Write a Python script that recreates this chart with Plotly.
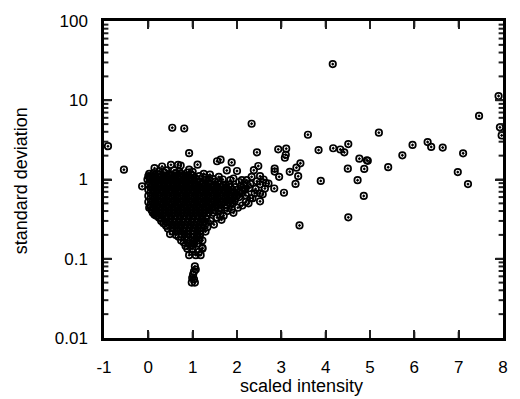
import plotly.graph_objects as go

# ---- data ----
outlier_x = [-0.91, -0.55, -0.14, 0.54, 0.81, 0.92, 2.33, 4.16, 7.90, 7.46, 7.93, 7.97,
             3.60, 5.20, 4.51, 5.96, 6.30, 6.38, 6.64, 7.10, 6.98, 7.21, 5.73, 5.41,
             4.86, 4.72, 4.87, 4.76, 4.93, 4.95, 4.50, 4.17, 4.33, 4.42, 3.84, 3.89,
             3.41, 4.51]
outlier_y = [2.63, 1.33, 0.82, 4.5, 4.4, 2.15, 5.05, 28.6, 11.3, 6.35, 4.55, 3.6,
             3.67, 3.9, 2.8, 2.73, 2.97, 2.58, 2.53, 2.14, 1.24, 0.875, 2.02, 1.43,
             0.62, 0.98, 1.36, 1.83, 1.75, 1.72, 1.37, 2.48, 2.39, 2.2, 2.35, 0.96,
             0.263, 0.333]

fringe_x = [0.14, 0.31, 0.51, 0.67, 0.73, 0.92, 0.40, 1.11, 1.55, 1.63, 1.88, 1.22,
            1.39, 1.59, 1.77, 2.00, 1.92, 2.22, 2.33, 2.52, 2.52, 2.18, 2.11, 2.40,
            2.26, 1.48, 2.52, 2.45, 2.48, 2.38, 2.93, 3.11, 3.08, 3.10, 2.85, 2.85,
            2.95, 3.19, 3.34, 3.32, 3.38, 3.43, 2.71, 2.84, 2.63, 3.06, 2.58, 2.52,
            2.11, 2.18, 0.03, 0.29, 0.47, 0.73, 0.54, 0.99, 1.70, 1.92, 1.48, 1.33,
            1.29, 1.22, 1.22, 1.10, 0.18, 0.29, 0.44, 0.49, 0.88, 0.99, 1.03, 1.22,
            0.92, 1.07, 1.18, 0.99, 1.14, 2.30]
fringe_y = [1.39, 1.46, 1.53, 1.53, 1.50, 1.33, 1.30, 1.54, 1.70, 1.78, 1.64, 0.89,
            1.15, 1.08, 1.30, 1.28, 1.03, 0.98, 1.08, 1.10, 0.87, 0.77, 0.67, 0.67,
            0.50, 0.81, 0.53, 2.20, 1.48, 1.31, 2.40, 2.45, 1.88, 2.05, 1.37, 1.26,
            1.08, 1.25, 1.41, 0.88, 1.10, 1.60, 0.89, 0.77, 0.77, 0.68, 0.65, 0.67,
            0.98, 0.74, 1.08, 1.08, 1.00, 1.19, 1.13, 0.98, 0.35, 0.38, 0.27, 0.25,
            0.22, 0.17, 0.137, 0.196, 0.35, 0.30, 0.24, 0.205, 0.134, 0.134, 0.154, 0.134,
            0.111, 0.111, 0.111, 0.122, 0.122, 0.58]

# ragged outline of the dense cloud
edge_x = [0.02, 0.12, 0.22, 0.36, 0.47, 0.62, 0.78, 0.88, 1.00, 1.15, 1.30, 1.45,
          1.68, 1.85, 2.05, 1.25, 1.00, 0.58, 0.25, 0.85, 0.05, 0.08, 0.10, 0.14,
          0.24, 0.34, 0.40, 0.55, 0.62, 0.68, 0.74, 0.80, 0.84, 1.30, 1.40, 1.55,
          1.62, 1.78, 1.88, 2.02, 2.12, 2.20, 1.65, 2.05, 2.12, 2.20, 2.28, 2.35,
          2.30, 2.42, 2.15, 2.45, 2.60, 2.65, 1.95, 2.08, 1.58, 1.38, 0.96, 0.70]
edge_y = [1.18, 1.20, 1.16, 1.22, 1.17, 1.20, 1.14, 1.22, 1.12, 1.10, 1.06, 1.02,
          1.00, 0.98, 0.93, 1.18, 1.25, 1.30, 1.28, 1.05, 0.45, 0.41, 0.38, 0.36,
          0.33, 0.28, 0.26, 0.22, 0.20, 0.19, 0.17, 0.16, 0.145, 0.28, 0.30, 0.33,
          0.36, 0.40, 0.42, 0.44, 0.47, 0.52, 0.31, 0.60, 0.72, 0.63, 0.78, 0.58,
          0.88, 0.76, 0.86, 0.95, 1.00, 0.90, 0.54, 0.82, 0.95, 0.97, 1.16, 1.26]

tail_x = [1.05, 1.03, 1.01, 0.99, 0.98, 1.05, 1.03, 1.07]
tail_y = [0.080, 0.069, 0.063, 0.057, 0.050, 0.050, 0.055, 0.073]

# dense core: one list of x positions per standard-deviation level
core_levels = [1.1, 1.05, 1.0, 0.93, 0.86, 0.8, 0.74, 0.68, 0.62, 0.57, 0.52, 0.48,
               0.44, 0.41, 0.38, 0.35, 0.32, 0.29, 0.27, 0.245, 0.225, 0.205, 0.185,
               0.17, 0.155]
core_rows = [
    [0.0, 0.1, 0.2, 0.3, 0.4, 0.5, 0.6, 0.7, 0.8, 0.9],
    [0.05, 0.15, 0.25, 0.35, 0.45, 0.55, 0.65, 0.75, 0.85, 0.95, 1.05],
    [-0.02, 0.1, 0.2, 0.3, 0.4, 0.5, 0.6, 0.7, 0.8, 0.9, 1.0, 1.1, 1.3],
    [0.03, 0.15, 0.25, 0.35, 0.45, 0.55, 0.65, 0.75, 0.85, 0.95, 1.05, 1.15, 1.25,
     1.35, 1.5],
    [0.0, 0.1, 0.2, 0.3, 0.4, 0.5, 0.6, 0.7, 0.8, 0.9, 1.0, 1.1, 1.2, 1.3, 1.4, 1.5,
     1.6, 1.7, 1.82],
    [0.05, 0.15, 0.25, 0.35, 0.45, 0.55, 0.65, 0.75, 0.85, 0.95, 1.05, 1.15, 1.25,
     1.35, 1.45, 1.55, 1.65, 1.75, 1.85, 1.95],
    [0.0, 0.1, 0.2, 0.3, 0.4, 0.5, 0.6, 0.7, 0.8, 0.9, 1.0, 1.1, 1.2, 1.3, 1.4, 1.5,
     1.6, 1.7, 1.8, 1.9, 2.0],
    [0.05, 0.15, 0.25, 0.35, 0.45, 0.55, 0.65, 0.75, 0.85, 0.95, 1.05, 1.15, 1.25,
     1.35, 1.45, 1.55, 1.65, 1.75, 1.85, 1.95, 2.05],
    [0.0, 0.1, 0.2, 0.3, 0.4, 0.5, 0.6, 0.7, 0.8, 0.9, 1.0, 1.1, 1.2, 1.3, 1.4, 1.5,
     1.6, 1.7, 1.8, 1.9, 2.0],
    [0.05, 0.15, 0.25, 0.35, 0.45, 0.55, 0.65, 0.75, 0.85, 0.95, 1.05, 1.15, 1.25,
     1.35, 1.45, 1.55, 1.65, 1.75, 1.85, 1.95],
    [0.0, 0.1, 0.2, 0.3, 0.4, 0.5, 0.6, 0.7, 0.8, 0.9, 1.0, 1.1, 1.2, 1.3, 1.4, 1.5,
     1.6, 1.7, 1.8, 1.9],
    [0.05, 0.15, 0.25, 0.35, 0.45, 0.55, 0.65, 0.75, 0.85, 0.95, 1.05, 1.15, 1.25,
     1.35, 1.45, 1.55, 1.65, 1.75, 1.85],
    [0.02, 0.12, 0.22, 0.32, 0.42, 0.52, 0.62, 0.72, 0.82, 0.92, 1.02, 1.12, 1.22,
     1.32, 1.42, 1.52, 1.62, 1.72],
    [0.08, 0.18, 0.28, 0.38, 0.48, 0.58, 0.68, 0.78, 0.88, 0.98, 1.08, 1.18, 1.28,
     1.38, 1.48, 1.58],
    [0.16, 0.26, 0.36, 0.46, 0.56, 0.66, 0.76, 0.86, 0.96, 1.06, 1.16, 1.26, 1.36,
     1.46],
    [0.22, 0.32, 0.42, 0.52, 0.62, 0.72, 0.82, 0.92, 1.02, 1.12, 1.22, 1.32],
    [0.3, 0.4, 0.5, 0.6, 0.7, 0.8, 0.9, 1.0, 1.1, 1.2, 1.3],
    [0.4, 0.48, 0.58, 0.68, 0.78, 0.88, 0.98, 1.08, 1.18, 1.26],
    [0.47, 0.56, 0.65, 0.75, 0.85, 0.95, 1.05, 1.15, 1.23],
    [0.54, 0.63, 0.72, 0.82, 0.92, 1.02, 1.12, 1.2],
    [0.64, 0.72, 0.8, 0.9, 1.0, 1.1, 1.18],
    [0.74, 0.82, 0.9, 1.0, 1.1, 1.17],
    [0.82, 0.9, 1.0, 1.1, 1.16],
    [0.86, 0.95, 1.05, 1.14],
    [0.9, 1.0, 1.1],
]

x_tick_vals = [-1, 0, 1, 2, 3, 4, 5, 6, 7, 8]
x_tick_text = ["-1", "0", "1", "2", "3", "4", "5", "6", "7", "8"]
y_tick_vals = [0.01, 0.1, 1, 10, 100]
y_tick_text = ["0.01", "0.1", "1", "10", "100"]
y_minor_vals = [d * m for d in (0.01, 0.1, 1, 10) for m in range(2, 10)]

# ---- assemble ----
core_x, core_y = [], []
for lvl, row in zip(core_levels, core_rows):
    for xv in row:
        core_x.append(xv)
        core_y.append(lvl)

all_x = core_x + edge_x + fringe_x + tail_x + outlier_x
all_y = core_y + edge_y + fringe_y + tail_y + outlier_y

FONT = "Liberation Sans, Arial, Helvetica, sans-serif"
TICK = "#202020"

fig = go.Figure(go.Scatter(
    x=all_x, y=all_y, mode="markers",
    marker=dict(symbol="circle-open-dot", size=6.5, color="black",
                line=dict(width=1.7, color="black")),
    hoverinfo="skip",
))

# inward tick marks on all four sides (gnuplot style), placed on the axes' own scales
tick_shapes = []
XLEN, YLEN, YMINLEN = 0.02, 0.019, 0.011
for xv in x_tick_vals[1:-1]:
    tick_shapes.append(dict(type="line", xref="x", yref="paper", x0=xv, x1=xv,
                            y0=0, y1=XLEN))
    tick_shapes.append(dict(type="line", xref="x", yref="paper", x0=xv, x1=xv,
                            y0=1, y1=1 - XLEN))
for yv in y_tick_vals[1:-1]:
    tick_shapes.append(dict(type="line", xref="paper", yref="y", x0=0, x1=YLEN,
                            y0=yv, y1=yv))
    tick_shapes.append(dict(type="line", xref="paper", yref="y", x0=1, x1=1 - YLEN,
                            y0=yv, y1=yv))
for yv in y_minor_vals:
    tick_shapes.append(dict(type="line", xref="paper", yref="y", x0=0, x1=YMINLEN,
                            y0=yv, y1=yv))
    tick_shapes.append(dict(type="line", xref="paper", yref="y", x0=1, x1=1 - YMINLEN,
                            y0=yv, y1=yv))
for s in tick_shapes:
    s["line"] = dict(color=TICK, width=2)
    s["layer"] = "above"

fig.update_layout(
    width=520, height=399,
    margin=dict(l=104, r=13, t=14, b=61),
    paper_bgcolor="white", plot_bgcolor="white",
    showlegend=False,
    shapes=tick_shapes,
    xaxis=dict(range=[-1, 8], tickmode="array", tickvals=x_tick_vals,
               ticktext=x_tick_text, ticks="inside", ticklen=8,
               tickwidth=2, tickcolor=TICK, ticklabelstandoff=12,
               showgrid=False, zeroline=False, showline=True, linewidth=2.5,
               linecolor="black", mirror="ticks",
               tickfont=dict(family=FONT, size=17, color="black")),
    yaxis=dict(type="log", range=[-2, 2], tickmode="array",
               tickvals=y_tick_vals, ticktext=y_tick_text, ticks="inside",
               ticklen=8, tickwidth=2, tickcolor=TICK,
               ticklabelstandoff=10,
               showgrid=False, zeroline=False, showline=True, linewidth=2.5,
               linecolor="black", mirror="ticks",
               tickfont=dict(family=FONT, size=17, color="black")),
    annotations=[
        dict(text="scaled intensity", xref="paper", yref="paper",
             x=0.496, y=-0.151, xanchor="center", yanchor="middle",
             showarrow=False, font=dict(family=FONT, size=18, color="black")),
        dict(text="standard deviation", xref="paper", yref="paper",
             x=-0.2075, y=0.495, xanchor="center", yanchor="middle",
             textangle=-90, showarrow=False,
             font=dict(family=FONT, size=18, color="black")),
    ],
)

fig.write_html("out.html")
